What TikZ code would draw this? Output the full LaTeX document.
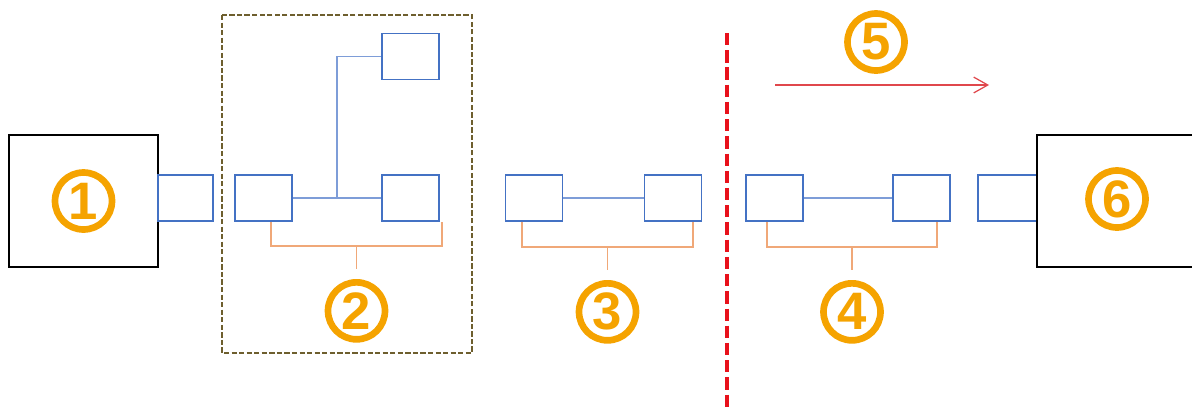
\documentclass[tikz,border=0pt]{standalone}
\usepackage{fontspec}
\setsansfont{Liberation Sans}
\usetikzlibrary{arrows.meta,positioning,calc}
\definecolor{UnitBlue}{HTML}{4472C4}
\definecolor{LinkBlue}{HTML}{7E9DD8}
\definecolor{BraceOrange}{HTML}{F0A878}
\definecolor{NumOrange}{HTML}{F5A300}
\definecolor{FrameBrown}{HTML}{6E5F2E}
\definecolor{CutRed}{HTML}{E8111B}
\definecolor{DirRed}{HTML}{E0474C}

\begin{document}
\begin{tikzpicture}[x=0.02cm,y=-0.02cm,
    unit/.style={draw=UnitBlue,line width=1.1pt,minimum width=1.14cm,minimum height=0.92cm,inner sep=0pt},
    port/.style={unit,minimum width=1.1cm},
    host/.style={draw=black,line width=1.1pt,minimum width=2.98cm,minimum height=2.64cm,inner sep=0pt},
    link/.style={draw=LinkBlue,line width=0.6pt},
    brace/.style={draw=BraceOrange,line width=0.8pt},
    num/.style={circle,draw=NumOrange,text=NumOrange,line width=3.8pt,minimum size=1.14cm,inner sep=0pt,
      font=\sffamily\bfseries\fontsize{30}{30}\selectfont}]
    \clip (0,0) rectangle (1192,410);

    \node[host] (host1) at (83.5,201) {};
    \node[num] (n1) at (host1) {1};
    \node[port] (p1) at (185.5,198) {};

    \draw[FrameBrown,line width=1.2pt,dash pattern=on 3pt off 1.3pt] (222,15) rectangle (472,353);
    \node[unit] (a2) at (263.5,198) {};
    \node[unit] (t2) at (410.5,56.5) {};
    \node[unit] (b2) at (410.5,198) {};
    \coordinate (j2) at (337,198);
    \draw[link,line width=1.1pt] (a2.east) -- (j2);
    \draw[link] (j2) |- (t2.west);
    \draw[link] (j2) -- (b2.west);
    \coordinate (l2) at (271,246);
    \coordinate (r2) at (442,246);
    \draw[brace] (l2 |- a2.south) -- (l2) -- (r2) -- (r2 |- b2.south);
    \draw[brace] ($(l2)!0.5!(r2)$) -- ++(0,23) coordinate (m2);
    \node[num,below=0.2cm of m2] (n2) {2};

    \node[unit] (a3) at (534,198) {};
    \node[unit] (b3) at (673,198) {};
    \draw[link] (a3) -- (b3);
    \coordinate (l3) at (522,247);
    \coordinate (r3) at (693,247);
    \draw[brace] (l3 |- a3.south) -- (l3) -- (r3) -- (r3 |- b3.south);
    \draw[brace] ($(l3)!0.5!(r3)$) -- ++(0,23) coordinate (m3);
    \node[num,below=0.2cm of m3] (n3) {3};

    \coordinate (cuttop) at (727,33);
    \coordinate (cutbot) at (727,415);
    \draw[CutRed,line width=2.2pt,dash pattern=on 7pt off 2.8pt] (cuttop) -- (cutbot);

    \coordinate (dirS) at (775,85);
    \coordinate (dirE) at (989,85);
    \draw[DirRed,line width=0.7pt,-{Straight Barb[length=8pt,width=9pt]}] (dirS) -- (dirE);
    \node[num] (n5) at (876,42) {5};

    \node[unit] (a4) at (774.5,198) {};
    \node[unit] (b4) at (921.5,198) {};
    \draw[link] (a4) -- (b4);
    \coordinate (l4) at (767,247);
    \coordinate (r4) at (937,247);
    \draw[brace] (l4 |- a4.south) -- (l4) -- (r4) -- (r4 |- b4.south);
    \draw[brace] ($(l4)!0.5!(r4)$) -- ++(0,23) coordinate (m4);
    \node[num,below=0.2cm of m4] (n4) {4};

    \node[port,minimum width=1.18cm] (p6) at (1007.5,198) {};
    \node[host,minimum width=4.12cm] (host6) at (1140,201) {};
    \node[num] (n6) at (1117,199) {6};
  \end{tikzpicture}
\end{document}
